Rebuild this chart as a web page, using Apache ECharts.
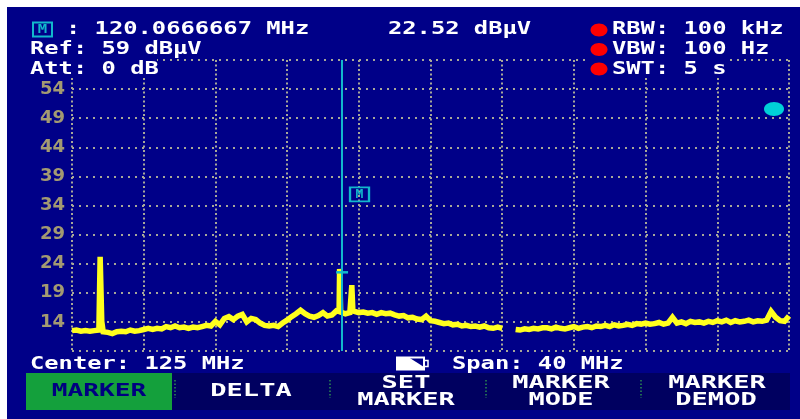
<!DOCTYPE html>
<html>
<head>
<meta charset="utf-8">
<script src="https://cdn.jsdelivr.net/npm/echarts@6/dist/echarts.min.js"></script>
<style>
html,body{margin:0;padding:0;background:#fff;}
#chart{width:800px;height:419px;}
</style>
</head>
<body>
<div id="chart"></div>
<script>
// ---- data ----
var sweepStart = 105;      // MHz
var sweepStep = 0.25;      // MHz per trace sample
var levels = [
  12.5,12.6,12.4,12.5,12.4,12.5,12.6,12.1,12.2,12.0,
  12.3,12.4,12.3,12.6,12.4,12.5,12.7,12.9,12.7,12.9,
  12.8,13.2,13.0,13.3,13.0,13.1,12.9,13.1,13.0,13.2,
  13.4,13.3,14.1,13.5,14.6,14.9,14.4,15.0,15.3,14.0,
  14.6,14.4,13.8,13.4,13.3,13.4,13.2,13.8,14.3,14.9,
  15.4,16.0,15.4,15.0,14.8,15.1,15.6,15.0,15.2,15.9,
  15.5,15.4,15.6,16.0,15.6,15.7,15.5,15.6,15.3,15.6,
  15.4,15.5,15.2,15.0,15.1,14.7,14.8,14.5,14.4,15.0,
  14.2,14.1,13.9,13.7,13.8,13.5,13.6,13.3,13.4,13.2,
  13.3,13.1,13.3,13.0,12.9,13.1,12.9,null,null,12.7,
  12.6,12.8,12.7,12.9,12.8,13.0,13.0,12.8,13.1,12.9,
  12.8,13.0,13.2,12.9,13.1,13.2,13.0,13.3,13.2,13.4,
  13.2,13.5,13.3,13.4,13.6,13.4,13.7,13.6,13.8,13.6,
  13.7,13.9,13.6,13.8,14.8,13.8,14.0,13.7,14.1,13.9,
  14.0,13.8,14.1,13.9,14.2,14.0,14.3,13.9,14.2,14.0,
  14.1,14.3,14.0,14.2,14.1,14.3,15.8,14.8,14.2,14.1,
  15.0
];
var spikeFreqs  = [106.53,106.57,106.63,106.66,106.72,106.74, 119.90,119.93,119.97,119.99, 120.58,120.61,120.64,120.67];
var spikeLevels = [12.7,  25.2,  24.9,  14.1,  14.0,  12.3,   15.8,  23.1,  23.0,  15.7,   15.7,  20.3,  20.2,  15.9];
var markerFreq = 120.0666667;
var markerLevel = 22.52;
var markerTagPos = [121.04, 35.9];
var yTicks = {min: 9, max: 59, interval: 5};
var xTicks = {min: 105, max: 145, interval: 4};

// ---- build trace ----
var trace = [];
for (var i = 0; i < levels.length; i++) trace.push([sweepStart + i * sweepStep, levels[i]]);
for (var j = 0; j < spikeFreqs.length; j++) trace.push([spikeFreqs[j], spikeLevels[j]]);
trace.sort(function(a, b){ return a[0] - b[0]; });

var MONO = '"DejaVu Sans Mono"';
function txt(s, x, y, o) {
  o = o || {};
  var align = o.align || 'left';
  return {
    type: 'text', x: x, y: y, z: 30,
    scaleX: o.sx || 1.32,
    style: {
      text: s, fill: o.color || '#ffffff',
      font: 'bold ' + (o.size || 18) + 'px ' + MONO,
      textAlign: align, align: align,
      textVerticalAlign: 'middle', verticalAlign: 'middle'
    }
  };
}
function rect(x, y, w, h, fill, z, stroke, lw) {
  var r = {type: 'rect', z: z || 10, shape: {x: x, y: y, width: w, height: h}, style: {fill: fill}};
  if (stroke) { r.style.stroke = stroke; r.style.lineWidth = lw || 1; }
  return r;
}
function sep(x) {
  return {type: 'line', z: 25, shape: {x1: x, y1: 380, x2: x, y2: 398},
          style: {stroke: '#2c8c50', lineWidth: 1.5, lineDash: [1.5, 2]}};
}

var CYAN = '#12b8cc';
var graphics = [
  // white border
  rect(0, 0, 800, 7, '#ffffff', 50),
  rect(0, 0, 7, 419, '#ffffff', 50),
  // masks behind header text
  rect(7, 59, 150, 19, '#000088', 12),
  rect(587, 59, 142, 18, '#000088', 12),
  // header
  {type: 'rect', z: 30, shape: {x: 33, y: 22.5, width: 19, height: 14}, style: {fill: 'none', stroke: CYAN, lineWidth: 2}},
  txt('M', 42.5, 30, {align: 'center', color: CYAN, size: 13, sx: 1.2}),
  txt(': 120.0666667 MHz', 66, 29.5),
  txt('22.52 dB\u03bcV', 388, 29.5),
  txt('Ref: 59 dB\u03bcV', 30, 49.5),
  txt('Att: 0 dB', 30, 69.5),
  {type: 'ellipse', z: 30, shape: {cx: 599, cy: 30, rx: 8.5, ry: 6.5}, style: {fill: '#ff0000'}},
  {type: 'ellipse', z: 30, shape: {cx: 599, cy: 49.5, rx: 8.5, ry: 6.5}, style: {fill: '#ff0000'}},
  {type: 'ellipse', z: 30, shape: {cx: 599, cy: 69, rx: 8.5, ry: 6.5}, style: {fill: '#ff0000'}},
  txt('RBW: 100 kHz', 612, 29.5),
  txt('VBW: 100 Hz', 612, 49.5),
  txt('SWT: 5 s', 612, 69.5),
  // status icon
  {type: 'ellipse', z: 30, shape: {cx: 774, cy: 109, rx: 10, ry: 7}, style: {fill: '#00d0d8'}},
  // footer
  txt('Center: 125 MHz', 30, 364),
  {type: 'rect', z: 30, shape: {x: 397, y: 357.5, width: 27, height: 12}, style: {fill: 'none', stroke: '#ffffff', lineWidth: 2}},
  {type: 'polygon', z: 30, shape: {points: [[397, 357.5], [409, 357.5], [424, 367], [424, 369.5], [397, 369.5]]}, style: {fill: '#ffffff'}},
  {type: 'rect', z: 30, shape: {x: 424, y: 360.5, width: 4, height: 6}, style: {fill: 'none', stroke: '#ffffff', lineWidth: 1.5}},
  txt('Span: 40 MHz', 452, 364),
  // softkeys
  rect(26, 373, 764, 37, '#000060', 20),
  rect(26, 373, 146, 37, '#14a03c', 21),
  txt('MARKER', 99, 391.5, {align: 'center', color: '#000080', sx: 1.45}),
  txt('DELTA', 251, 391.5, {align: 'center', sx: 1.5}),
  txt('SET', 406, 383.5, {align: 'center', sx: 1.5}),
  txt('MARKER', 406, 400, {align: 'center', sx: 1.5}),
  txt('MARKER', 561, 383.5, {align: 'center', sx: 1.5}),
  txt('MODE', 561, 400, {align: 'center', sx: 1.5}),
  txt('MARKER', 717, 383.5, {align: 'center', sx: 1.5}),
  txt('DEMOD', 716, 400, {align: 'center', sx: 1.5}),
  sep(175), sep(330), sep(486), sep(641)
];

var chart = echarts.init(document.getElementById('chart'), null, {renderer: 'canvas'});
chart.setOption({
  backgroundColor: '#000088',
  animation: false,
  grid: {left: 72, top: 60, right: 11, bottom: 68, containLabel: false},
  xAxis: {
    type: 'value', min: xTicks.min, max: xTicks.max, interval: xTicks.interval,
    axisLine: {show: false}, axisTick: {show: false}, axisLabel: {show: false},
    splitLine: {show: true, lineStyle: {color: '#a8a898', width: 2, type: [2, 2.5]}}
  },
  yAxis: {
    type: 'value', min: yTicks.min, max: yTicks.max, interval: yTicks.interval,
    axisLine: {show: false}, axisTick: {show: false},
    axisLabel: {
      color: '#a39a72', fontFamily: 'DejaVu Sans', fontWeight: 'bold', fontSize: 18, margin: 7,
      formatter: function(v){ return (v === yTicks.min || v === yTicks.max) ? '' : String(v); }
    },
    splitLine: {show: true, lineStyle: {color: '#a8a898', width: 2, type: [2, 5]}}
  },
  series: [{
    type: 'line', data: trace, showSymbol: false, symbol: 'none', connectNulls: false,
    lineStyle: {color: '#ffff1e', width: 5.5, join: 'miter'}, z: 3,
    markLine: {
      silent: true, symbol: 'none', label: {show: false},
      lineStyle: {color: CYAN, width: 2, type: 'solid'},
      data: [{xAxis: markerFreq}]
    },
    markPoint: {
      silent: true,
      data: [
        {coord: [markerFreq, markerLevel], symbol: 'rect', symbolSize: [12, 2.5],
         itemStyle: {color: CYAN}, label: {show: false}},
        {coord: markerTagPos, symbol: 'rect', symbolSize: [19, 14],
         itemStyle: {color: 'rgba(0,0,0,0)', borderColor: CYAN, borderWidth: 2},
         label: {show: true, position: 'inside', formatter: 'M', color: CYAN,
                 fontFamily: 'DejaVu Sans Mono', fontWeight: 'bold', fontSize: 13}}
      ]
    }
  }],
  graphic: {elements: graphics}
});
</script>
</body>
</html>
